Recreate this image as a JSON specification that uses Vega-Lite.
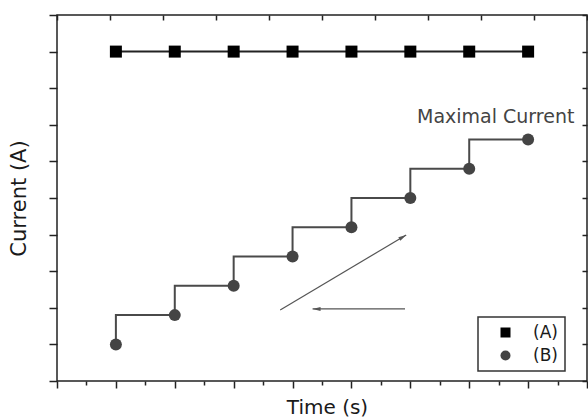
{
  "$schema": "https://vega.github.io/schema/vega-lite/v6.json",
  "width": 530,
  "height": 366,
  "autosize": {"type": "none"},
  "padding": {"left": 57, "top": 15, "right": 1, "bottom": 39},
  "background": "white",
  "config": {
    "view": {"stroke": "#222", "strokeWidth": 1.5},
    "font": "DejaVu Sans",
    "axis": {"labels": false, "domain": false, "grid": false, "tickColor": "#222", "tickWidth": 1.5, "titleFont": "DejaVu Sans", "titleFontWeight": "normal", "titleColor": "#1a1a1a"},
    "legend": {"orient": "none", "legendX": 421, "legendY": 302, "strokeColor": "#333", "strokeWidth": 1.5, "padding": 7,
      "symbolOffset": 12, "labelOffset": 19, "rowPadding": 5, "labelFontSize": 17, "labelFont": "DejaVu Sans", "labelColor": "#1a1a1a", "symbolSize": 100, "fillColor": "white"}
  },
  "datasets": {
    "series": [
      {"series": "(A)", "t": 1, "current": 9},
      {"series": "(A)", "t": 2, "current": 9},
      {"series": "(A)", "t": 3, "current": 9},
      {"series": "(A)", "t": 4, "current": 9},
      {"series": "(A)", "t": 5, "current": 9},
      {"series": "(A)", "t": 6, "current": 9},
      {"series": "(A)", "t": 7, "current": 9},
      {"series": "(A)", "t": 8, "current": 9},
      {"series": "(B)", "t": 1, "current": 1.0},
      {"series": "(B)", "t": 2, "current": 1.8},
      {"series": "(B)", "t": 3, "current": 2.6},
      {"series": "(B)", "t": 4, "current": 3.4},
      {"series": "(B)", "t": 5, "current": 4.2},
      {"series": "(B)", "t": 6, "current": 5.0},
      {"series": "(B)", "t": 7, "current": 5.8},
      {"series": "(B)", "t": 8, "current": 6.6}
    ],
    "arrows": [
      {"arrow": "up", "x": 3.79, "y": 1.94, "x2": 5.93, "y2": 3.99},
      {"arrow": "left", "x": 5.91, "y": 1.97, "x2": 4.34, "y2": 1.97}
    ],
    "labels": [
      {"label": "Maximal Current", "t": 7.45, "current": 7.06}
    ]
  },
  "resolve": {"axis": {"x": "independent", "y": "independent"}},
  "layer": [
    {
      "data": {"name": "series"},
      "transform": [{"filter": "datum.series === '(A)'"}],
      "mark": {"type": "line", "interpolate": "step-before", "strokeWidth": 2, "color": "#222"},
      "encoding": {
        "x": {"field": "t", "type": "quantitative", "scale": {"domain": [0, 9], "nice": false, "zero": false},
          "axis": {"orient": "bottom", "title": "Time (s)", "titleFontSize": 20, "values": [0,0.5,1,1.5,2,2.5,3,3.5,4,4.5,5,5.5,6,6.5,7,7.5,8,8.5,9],
            "tickSize": {"condition": {"test": "datum.value % 1 === 0", "value": 7}, "value": 4},
            "titleX": 270, "titleY": 32, "titleBaseline": "alphabetic", "titleAlign": "center"}},
        "y": {"field": "current", "type": "quantitative", "scale": {"domain": [0, 10], "nice": false, "zero": false},
          "axis": {"orient": "left", "title": "Current (A)", "titleFontSize": 21, "values": [0,1,2,3,4,5,6,7,8,9,10], "tickSize": 8,
            "titleX": -32, "titleY": 183, "titleBaseline": "alphabetic", "titleAlign": "center", "titleAngle": -90}}
      }
    },
    {
      "data": {"name": "series"},
      "transform": [{"filter": "datum.series === '(B)'"}],
      "mark": {"type": "line", "interpolate": "step-before", "strokeWidth": 2, "color": "#4a4a4a"},
      "encoding": {
        "x": {"field": "t", "type": "quantitative",
          "axis": {"orient": "top", "title": null, "values": [0,0.9,1.8,2.7,3.6,4.5,5.4,6.3,7.2,8.1,9], "tickSize": 5, "offset": -5}},
        "y": {"field": "current", "type": "quantitative",
          "axis": {"orient": "right", "title": null, "values": [0,1,2,3,4,5,6,7,8,9,10], "tickSize": 5, "offset": -5}}
      }
    },
    {
      "data": {"name": "series"},
      "mark": {"type": "point", "filled": true, "opacity": 1, "size": 144},
      "encoding": {
        "x": {"field": "t", "type": "quantitative", "axis": null},
        "y": {"field": "current", "type": "quantitative", "axis": null},
        "shape": {"field": "series", "type": "nominal", "scale": {"domain": ["(A)", "(B)"], "range": ["square", "circle"]}, "title": null},
        "color": {"field": "series", "type": "nominal", "scale": {"domain": ["(A)", "(B)"], "range": ["#000000", "#444444"]}, "title": null}
      }
    },
    {
      "data": {"name": "arrows"},
      "mark": {"type": "rule", "color": "#555", "strokeWidth": 1.2},
      "encoding": {
        "x": {"field": "x", "type": "quantitative", "axis": null},
        "y": {"field": "y", "type": "quantitative", "axis": null},
        "x2": {"field": "x2"},
        "y2": {"field": "y2"}
      }
    },
    {
      "data": {"name": "arrows"},
      "transform": [{"filter": "datum.arrow === 'up'"}],
      "mark": {"type": "point", "shape": "M0,0L-2,-0.5L-2,0.5Z", "filled": true, "color": "#555", "opacity": 1, "size": 64, "angle": -31},
      "encoding": {
        "x": {"field": "x2", "type": "quantitative", "axis": null},
        "y": {"field": "y2", "type": "quantitative", "axis": null}
      }
    },
    {
      "data": {"name": "arrows"},
      "transform": [{"filter": "datum.arrow === 'left'"}],
      "mark": {"type": "point", "shape": "M0,0L-2,-0.5L-2,0.5Z", "filled": true, "color": "#555", "opacity": 1, "size": 64, "angle": 180},
      "encoding": {
        "x": {"field": "x2", "type": "quantitative", "axis": null},
        "y": {"field": "y2", "type": "quantitative", "axis": null}
      }
    },
    {
      "data": {"name": "labels"},
      "mark": {"type": "text", "font": "DejaVu Sans", "fontSize": 19, "color": "#444", "align": "center", "baseline": "alphabetic"},
      "encoding": {
        "x": {"field": "t", "type": "quantitative", "axis": null},
        "y": {"field": "current", "type": "quantitative", "axis": null},
        "text": {"field": "label"}
      }
    }
  ]
}
